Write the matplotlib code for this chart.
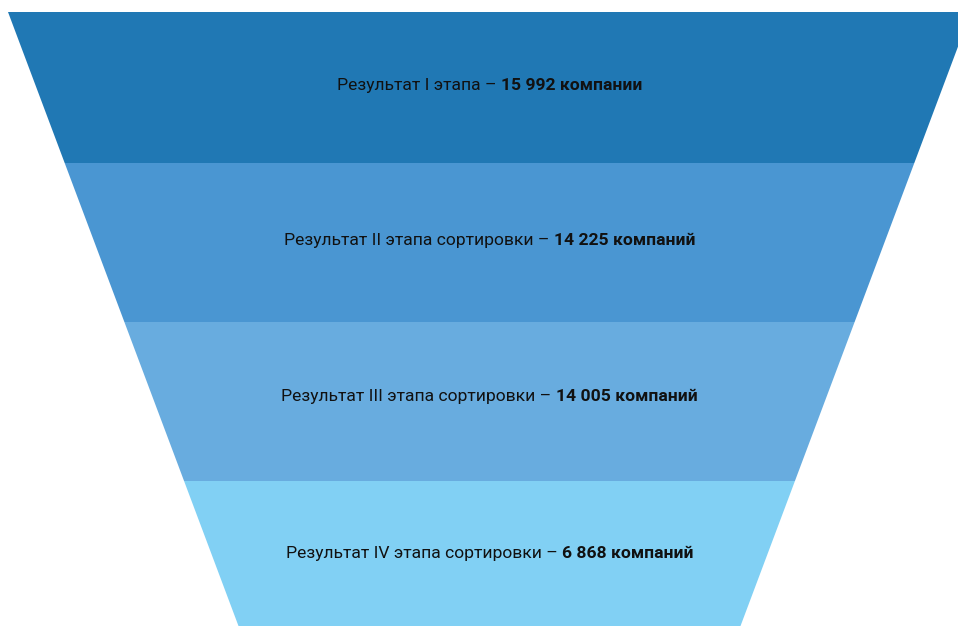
import matplotlib.pyplot as plt
from matplotlib.patches import Polygon

plt.rcParams['font.family'] = ['Roboto', 'DejaVu Sans']

# этапы сортировки и число компаний после каждого
stages = ['Результат I этапа', 'Результат II этапа сортировки',
          'Результат III этапа сортировки', 'Результат IV этапа сортировки']
counts = [15992, 14225, 14005, 6868]
units = ['компании', 'компаний', 'компаний', 'компаний']
colors = ['#2078b4', '#4a96d2', '#68acdf', '#81d0f4']

# геометрия воронки (в пикселях холста)
W, H = 958, 626
cx = 489.5
edges = [12, 163, 322, 481, 640]
half_top, slope = 481.5, 0.3754


def half_width(y):
    return half_top - slope * (y - edges[0])


def fmt(n):
    return f'{n:,}'.replace(',', ' ')


fig = plt.figure(figsize=(W / 100, H / 100), dpi=100)
ax = fig.add_axes([0, 0, 1, 1])
ax.set_xlim(0, W)
ax.set_ylim(H, 0)
ax.axis('off')

for i, col in enumerate(colors):
    y0, y1 = edges[i], edges[i + 1]
    pts = [(cx - half_width(y0), y0), (cx + half_width(y0), y0),
           (cx + half_width(y1), y1), (cx - half_width(y1), y1)]
    ax.add_patch(Polygon(pts, closed=True, facecolor=col, edgecolor='none'))

# базовые линии подписей
label_y = [90, 245, 401, 558]
fig.canvas.draw()
renderer = fig.canvas.get_renderer()
for name, n, unit, y in zip(stages, counts, units, label_y):
    t1 = ax.text(0, y, name + ' – ', fontsize=12.6, color='#111111',
                 ha='left', va='baseline')
    t2 = ax.text(0, y, f'{fmt(n)} {unit}', fontsize=12.6, color='#111111',
                 fontweight='bold', ha='left', va='baseline')
    w1 = t1.get_window_extent(renderer).width
    w2 = t2.get_window_extent(renderer).width
    x0 = cx - (w1 + w2) / 2
    t1.set_x(x0)
    t2.set_x(x0 + w1)

fig.savefig('out.png', dpi=100)
